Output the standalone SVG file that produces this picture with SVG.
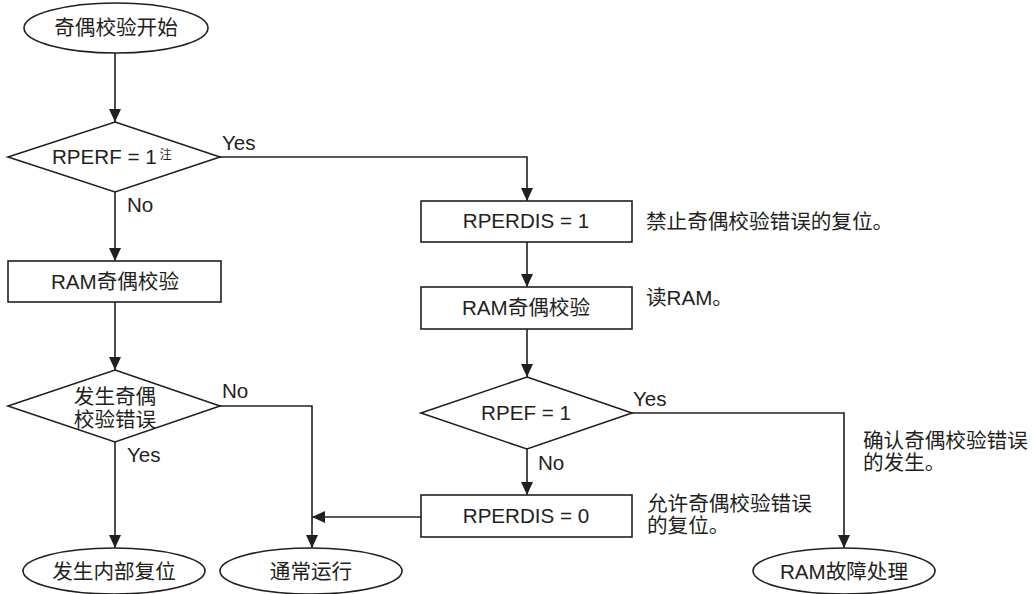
<svg xmlns="http://www.w3.org/2000/svg" width="1034" height="594" viewBox="0 0 1034 594">
<defs>
<marker id="arr" markerUnits="userSpaceOnUse" markerWidth="13" markerHeight="12" refX="13" refY="6" orient="auto">
<path d="M0,0 L13,6 L0,12 z" fill="#231f20"/>
</marker>
<style>
.s{fill:#fff;stroke:#231f20;stroke-width:1.6}
.c{fill:none;stroke:#231f20;stroke-width:1.6}
text{font-family:"Liberation Sans","Noto Sans CJK SC",sans-serif;font-size:20.6px;fill:#231f20}
.m{text-anchor:middle}
</style>
</defs>
<rect width="1034" height="594" fill="#fff"/>
<g id="connectors">
<path class="c" d="M115,53 V122" marker-end="url(#arr)"/>
<path class="c" d="M115,192 V261" marker-end="url(#arr)"/>
<path class="c" d="M115,302 V370" marker-end="url(#arr)"/>
<path class="c" d="M115,442 V548" marker-end="url(#arr)"/>
<path class="c" d="M220,406 H312 V548" marker-end="url(#arr)"/>
<path class="c" d="M421,517 H312" marker-end="url(#arr)"/>
<path class="c" d="M220,157 H527 V201" marker-end="url(#arr)"/>
<path class="c" d="M527,242 V287" marker-end="url(#arr)"/>
<path class="c" d="M527,329 V377" marker-end="url(#arr)"/>
<path class="c" d="M632,413 H844 V548" marker-end="url(#arr)"/>
<path class="c" d="M527,449 V495" marker-end="url(#arr)"/>
<text x="222" y="150">Yes</text>
<text x="127" y="212">No</text>
<text x="222" y="398">No</text>
<text x="127" y="462">Yes</text>
<text x="633" y="406">Yes</text>
<text x="538" y="470">No</text>
</g>
<g id="start">
<ellipse class="s" cx="116" cy="28" rx="92" ry="25"/>
<text class="m" x="116" y="35">奇偶校验开始</text>
</g>
<g id="d1">
<polygon class="s" points="115,122 220,157 115,192 8,157"/>
<text x="52" y="164">RPERF = 1<tspan font-size="12" dx="3" dy="-5">注</tspan></text>
</g>
<g id="b1">
<rect class="s" x="8" y="261" width="213" height="41"/>
<text class="m" x="115" y="289">RAM奇偶校验</text>
</g>
<g id="d2">
<polygon class="s" points="115,370 220,406 115,442 8,406"/>
<text class="m" x="115" y="404">发生奇偶</text>
<text class="m" x="115" y="427">校验错误</text>
</g>
<g id="e_reset">
<ellipse class="s" cx="114" cy="571" rx="91" ry="23"/>
<text class="m" x="114" y="579">发生内部复位</text>
</g>
<g id="e_normal">
<ellipse class="s" cx="311" cy="571" rx="91" ry="23"/>
<text class="m" x="311" y="579">通常运行</text>
</g>
<g id="b2">
<rect class="s" x="421" y="201" width="211" height="41"/>
<text class="m" x="526" y="228">RPERDIS = 1</text>
<text x="646" y="229">禁止奇偶校验错误的复位。</text>
</g>
<g id="b3">
<rect class="s" x="421" y="287" width="211" height="42"/>
<text class="m" x="526" y="315">RAM奇偶校验</text>
<text x="646" y="305">读RAM。</text>
</g>
<g id="d3">
<polygon class="s" points="527,377 632,413 527,449 421,413"/>
<text class="m" x="526" y="420">RPEF = 1</text>
</g>
<g id="b4">
<rect class="s" x="421" y="495" width="211" height="42"/>
<text class="m" x="526" y="523">RPERDIS = 0</text>
<text x="647" y="511">允许奇偶校验错误</text>
<text x="647" y="533">的复位。</text>
</g>
<g id="note_confirm">
<text x="863" y="448">确认奇偶校验错误</text>
<text x="863" y="470">的发生。</text>
</g>
<g id="e_fault">
<ellipse class="s" cx="844" cy="571" rx="91" ry="23"/>
<text class="m" x="844" y="579">RAM故障处理</text>
</g>
</svg>
